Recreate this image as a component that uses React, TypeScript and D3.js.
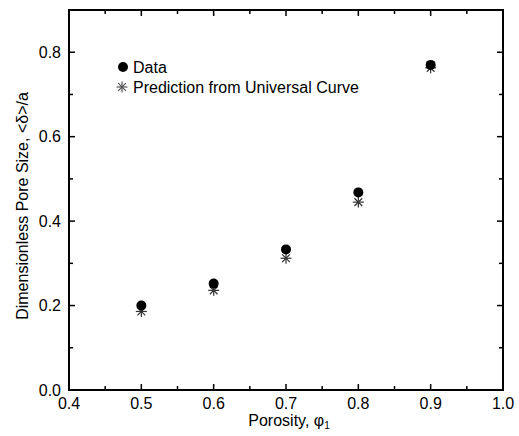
import React from "react";
import * as d3 from "d3";

const porosity = [0.5, 0.6, 0.7, 0.8, 0.9];
const dataValues = [0.2, 0.252, 0.333, 0.468, 0.77];
const predictionValues = [0.186, 0.236, 0.312, 0.445, 0.763];
const xTicks = [0.4, 0.5, 0.6, 0.7, 0.8, 0.9, 1.0];
const xMinorTicks = [0.45, 0.55, 0.65, 0.75, 0.85, 0.95];
const yTicks = [0.0, 0.2, 0.4, 0.6, 0.8];
const yMinorTicks = [0.1, 0.3, 0.5, 0.7];
const legendLabels = ["Data", "Prediction from Universal Curve"];

const W = 519;
const H = 436;
const M = { left: 69, right: 16, top: 10, bottom: 46 };

function Star({ cx, cy, r, color }: { cx: number; cy: number; r: number; color: string }) {
  const angles = [0, 45, 90, 135];
  return (
    <g stroke={color} strokeWidth={1.2}>
      {angles.map((a) => {
        const rad = (a * Math.PI) / 180;
        const dx = Math.cos(rad) * r;
        const dy = Math.sin(rad) * r;
        return <line key={a} x1={cx - dx} y1={cy - dy} x2={cx + dx} y2={cy + dy} />;
      })}
    </g>
  );
}

export default function App() {
  const x = d3.scaleLinear().domain([0.4, 1.0]).range([M.left, W - M.right]);
  const y = d3.scaleLinear().domain([0, 0.9]).range([H - M.bottom, M.top]);
  const x0 = M.left, x1 = W - M.right, y0 = H - M.bottom, y1 = M.top;
  const font = "Liberation Sans, Arial, sans-serif";
  const major = 6, minor = 4;
  return (
    <svg width={W} height={H} style={{ position: "absolute", left: 0, top: 0 }} fontFamily={font}>
      <rect x={0} y={0} width={W} height={H} fill="#fff" />
      {/* frame */}
      <rect x={x0} y={y1} width={x1 - x0} height={y0 - y1} fill="none" stroke="#000" strokeWidth={2} />
      {/* x ticks */}
      {xTicks.map((t) => (
        <g key={"xt" + t}>
          <line x1={x(t)} x2={x(t)} y1={y0} y2={y0 - major} stroke="#000" strokeWidth={1.5} />
          <line x1={x(t)} x2={x(t)} y1={y1} y2={y1 + major} stroke="#000" strokeWidth={1.5} />
          <text x={x(t)} y={y0 + 19} textAnchor="middle" fontSize={16}>
            {t.toFixed(1)}
          </text>
        </g>
      ))}
      {xMinorTicks.map((t) => (
        <g key={"xm" + t}>
          <line x1={x(t)} x2={x(t)} y1={y0} y2={y0 - minor} stroke="#000" strokeWidth={1.5} />
          <line x1={x(t)} x2={x(t)} y1={y1} y2={y1 + minor} stroke="#000" strokeWidth={1.5} />
        </g>
      ))}
      {/* y ticks */}
      {yTicks.map((t) => (
        <g key={"yt" + t}>
          <line x1={x0} x2={x0 + major} y1={y(t)} y2={y(t)} stroke="#000" strokeWidth={1.5} />
          <line x1={x1} x2={x1 - major} y1={y(t)} y2={y(t)} stroke="#000" strokeWidth={1.5} />
          <text x={x0 - 8} y={y(t) + 5.5} textAnchor="end" fontSize={16}>
            {t.toFixed(1)}
          </text>
        </g>
      ))}
      {yMinorTicks.map((t) => (
        <g key={"ym" + t}>
          <line x1={x0} x2={x0 + minor} y1={y(t)} y2={y(t)} stroke="#000" strokeWidth={1.5} />
          <line x1={x1} x2={x1 - minor} y1={y(t)} y2={y(t)} stroke="#000" strokeWidth={1.5} />
        </g>
      ))}
      {/* axis titles */}
      <text x={289} y={426} textAnchor="middle" fontSize={16}>
        Porosity, φ<tspan fontSize={10} dy={3}>1</tspan>
      </text>
      <text
        transform={`translate(28, 206) rotate(-90)`}
        textAnchor="middle"
        fontSize={16}
      >
        Dimensionless Pore Size, &lt;δ&gt;/a
      </text>
      {/* data */}
      {porosity.map((p, i) => (
        <Star key={"s" + p} cx={x(p)} cy={y(predictionValues[i])} r={5.5} color="#333" />
      ))}
      {porosity.map((p, i) => (
        <circle key={"c" + p} cx={x(p)} cy={y(dataValues[i])} r={5} fill="#000" />
      ))}
      {/* legend */}
      <circle cx={123} cy={67} r={5} fill="#000" />
      <text x={133} y={72.5} fontSize={16}>
        {legendLabels[0]}
      </text>
      <Star cx={122} cy={87} r={5.5} color="#555" />
      <text x={133} y={92.5} fontSize={16}>
        {legendLabels[1]}
      </text>
    </svg>
  );
}
